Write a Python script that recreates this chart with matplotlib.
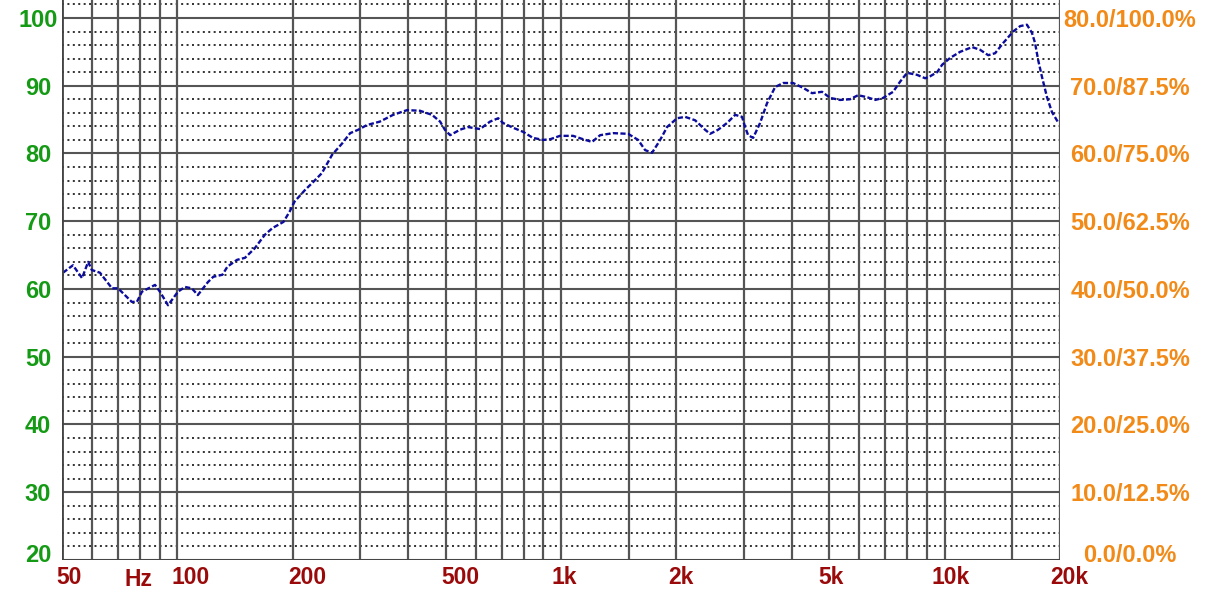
import numpy as np
import matplotlib.pyplot as plt
import matplotlib.transforms as mtransforms

# Frequency response (Hz, dB)
freq = [50, 50.3, 53.4, 56.4, 58.5, 59.8, 62.8, 67.5, 70, 76, 78.4, 80.8, 87.4, 90,
        94.5, 100.3, 104.6, 109, 113, 120, 124, 131, 135, 143, 150, 159, 169, 177,
        189, 196, 202, 215, 226, 238, 253, 269, 282, 296, 312, 337, 365, 397, 429,
        461, 484, 498, 514, 545, 572, 615, 653, 686, 706, 750, 796, 845, 898, 937,
        994, 1075, 1142, 1205, 1265, 1367, 1496, 1589, 1657, 1727, 1791, 1834, 1890,
        2008, 2107, 2237, 2375, 2447, 2568, 2710, 2845, 2965, 3020, 3075, 3169, 3304,
        3444, 3616, 3796, 4027, 4274, 4514, 4793, 5030, 5339, 5668, 5953, 6282, 6594,
        6917, 7344, 7659, 7987, 8480, 8902, 9175, 9567, 9860, 10340, 10980, 11800,
        12380, 13000, 13550, 14220, 15100, 15750, 16400, 16900, 17220, 17540, 17950,
        18500, 19060, 19770]
spl = [63.5, 62.4, 63.5, 61.6, 64.0, 62.8, 62.4, 60.1, 60.1, 58.1, 58.1, 59.6, 60.6, 59.6,
       57.6, 59.6, 60.3, 60.1, 59.1, 61.0, 61.8, 62.1, 63.3, 64.3, 64.6, 66.0, 68.0, 69.0,
       69.9, 71.4, 72.9, 74.6, 75.8, 77.1, 79.8, 81.5, 83.0, 83.5, 84.2, 84.7, 85.7, 86.4, 86.3,
       85.7, 84.7, 83.5, 82.7, 83.5, 83.9, 83.6, 84.7, 85.2, 84.5, 83.8, 83.2, 82.3, 82.0, 82.1,
       82.6, 82.6, 82.1, 81.7, 82.7, 83.0, 82.9, 82.0, 80.5, 80.1, 81.5, 82.5, 83.9,
       85.2, 85.4, 84.9, 83.5, 82.9, 83.5, 84.5, 85.7, 85.4, 83.9, 82.7, 82.3, 84.5,
       87.4, 89.8, 90.4, 90.4, 89.7, 88.9, 89.1, 88.2, 87.9, 88.0, 88.6, 88.3, 87.9,
       88.2, 89.1, 90.6, 91.9, 91.6, 91.1, 91.4, 92.0, 93.1, 94.1, 95.0, 95.7,
       95.3, 94.5, 94.8, 96.3, 98.0, 98.8, 99.0, 97.8, 96.3, 93.8, 91.3,
       88.3, 86.1, 84.6]

# grid / tick setup
label_freqs = [50, 100, 200, 500, 1000, 2000, 5000, 10000, 20000]
label_text = ['50', '100', '200', '500', '1k', '2k', '5k', '10k', '20k']
other_freqs = [60, 70, 80, 90, 300, 400, 600, 700, 800, 900, 1500, 3000, 4000,
               6000, 7000, 8000, 9000, 15000]
db_ticks = [20, 30, 40, 50, 60, 70, 80, 90, 100]
pct_labels = ['0.0/0.0%', '10.0/12.5%', '20.0/25.0%', '30.0/37.5%', '40.0/50.0%',
              '50.0/62.5%', '60.0/75.0%', '70.0/87.5%', '80.0/100.0%']

GREEN = '#159a15'
ORANGE = '#f28a18'
RED = '#9a0a0a'
GRID = '#555555'

plt.rcParams['font.family'] = ['Liberation Sans', 'DejaVu Sans']
fig = plt.figure(figsize=(12.05, 5.95), dpi=100)
W, H = 1205, 595
ax = fig.add_axes([62 / W, 35 / H, (1060 - 62) / W, 1 - 35 / H])
ax.set_xscale('log')
ax.set_xlim(50, 20000)
ax.set_ylim(20, 102.65)

# dotted minor lines every 2 dB
for v in np.arange(22, 103, 2):
    if v % 10 != 0:
        ax.axhline(v, color='#222222', lw=1.3, ls=(0, (1.1, 1.9)), zorder=1)
for v in db_ticks:
    ax.axhline(v, color=GRID, lw=1.5, zorder=2)
for f in label_freqs + other_freqs:
    ax.axvline(f, color=GRID, lw=1.6, zorder=2)

ax.plot(freq, spl, color='#0c0c9c', lw=1.7, ls=(0, (2.2, 1.0)), zorder=3)

for s in ax.spines.values():
    s.set_visible(False)

ax.xaxis.set_minor_locator(plt.NullLocator())
ax.set_xticks(label_freqs)
ax.set_xticklabels(label_text)
ax.tick_params(axis='x', length=0, pad=4, labelsize=16.5, labelcolor=RED)
offsets = [7, 13, 14, 15, 3, 4, 2, 6, 9]
for lab, dx in zip(ax.get_xticklabels(), offsets):
    lab.set_fontweight('bold')
    lab.set_transform(lab.get_transform() +
                      mtransforms.ScaledTranslation(dx / 100, 0, fig.dpi_scale_trans))
ax.text(79, -0.014, 'Hz', transform=ax.get_xaxis_transform(), ha='center', va='top',
        color=RED, fontsize=16.5, fontweight='bold')

ax.set_yticks(db_ticks)
ax.set_yticklabels([str(v) for v in db_ticks])
ax.tick_params(axis='y', length=0, pad=17.3, labelsize=17, labelcolor=GREEN)
for lab in ax.get_yticklabels():
    lab.set_fontweight('bold')
    lab.set_horizontalalignment('center')

ax2 = ax.twinx()
ax2.set_ylim(ax.get_ylim())
for s in ax2.spines.values():
    s.set_visible(False)
ax2.set_yticks(db_ticks)
ax2.set_yticklabels(pct_labels)
ax2.tick_params(axis='y', length=0, pad=50.4, labelsize=17, labelcolor=ORANGE)
for lab in ax2.get_yticklabels():
    lab.set_fontweight('bold')
    lab.set_horizontalalignment('center')

# lowest labels sit a little above the bottom line
up = mtransforms.ScaledTranslation(0, 7 / 100, fig.dpi_scale_trans)
for lab in (ax.get_yticklabels()[0], ax2.get_yticklabels()[0]):
    lab.set_transform(lab.get_transform() + up)

# axis border lines (left and bottom)
ax.axvline(50, color='#444444', lw=2, zorder=4)
ax.axhline(20, color='#444444', lw=2, zorder=4)

fig.savefig('out.png', dpi=100)
